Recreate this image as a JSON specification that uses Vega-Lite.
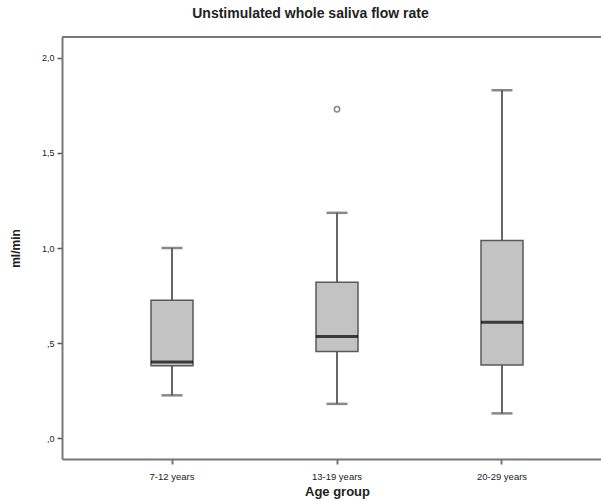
{
  "$schema": "https://vega.github.io/schema/vega-lite/v6.json",
  "width": 539,
  "height": 422,
  "autosize": {"type": "none"},
  "padding": {"left": 62, "top": 37, "right": 0, "bottom": 43},
  "background": "white",
  "title": {
    "text": "Unstimulated whole saliva flow rate",
    "font": "Liberation Sans",
    "fontSize": 14,
    "fontWeight": "bold",
    "color": "#222",
    "anchor": "middle",
    "dx": -21,
    "offset": 15
  },
  "config": {
    "view": {"stroke": null},
    "font": "Liberation Sans"
  },
  "data": {
    "values": [
      {"group": "7-12 years", "lower": 0.225, "q1": 0.38, "median": 0.4, "q3": 0.725, "upper": 1.0},
      {"group": "13-19 years", "lower": 0.18, "q1": 0.455, "median": 0.535, "q3": 0.82, "upper": 1.185},
      {"group": "20-29 years", "lower": 0.13, "q1": 0.385, "median": 0.61, "q3": 1.04, "upper": 1.83}
    ]
  },
  "encoding": {
    "x": {
      "field": "group",
      "type": "nominal",
      "sort": ["7-12 years", "13-19 years", "20-29 years"],
      "scale": {"type": "band", "range": [0, 550], "paddingInner": 0, "paddingOuter": 0.1667},
      "axis": {
        "title": "Age group",
        "titleFont": "Liberation Sans",
        "titleFontSize": 13,
        "titleFontWeight": "bold",
        "titleColor": "#222",
        "titlePadding": 5,
        "labelAngle": 0,
        "labelFontSize": 9.5,
        "labelColor": "#222",
        "labelPadding": 7,
        "tickSize": 5,
        "tickWidth": 2,
        "tickColor": "#777",
        "domainColor": "#777",
        "domainWidth": 2,
        "grid": false
      }
    }
  },
  "layer": [
    {
      "mark": {"type": "rule", "color": "#777", "strokeWidth": 2},
      "encoding": {"y": {"datum": 2.11}, "x": null}
    },
    {
      "mark": {"type": "rule", "color": "#666", "strokeWidth": 2},
      "encoding": {
        "y": {
          "field": "lower",
          "type": "quantitative",
          "scale": {"domain": [-0.11, 2.11], "nice": false, "zero": false},
          "axis": {
            "title": "ml/min",
            "titleFont": "Liberation Sans",
            "titleFontSize": 12,
            "titleFontWeight": "bold",
            "titleColor": "#222",
            "titlePadding": 19,
            "values": [0, 0.5, 1, 1.5, 2],
            "labelExpr": "datum.value < 1 ? ',' + substring(format(datum.value, '.1f'), 2) : replace(format(datum.value, '.1f'), '.', ',')",
            "labelFontSize": 9,
            "labelColor": "#222",
            "labelPadding": 3,
            "tickSize": 5,
            "tickWidth": 1.5,
            "tickColor": "#555",
            "domainColor": "#777",
            "domainWidth": 2,
            "grid": false
          }
        },
        "y2": {"field": "upper"}
      }
    },
    {
      "mark": {"type": "bar", "size": 42, "fill": "#c3c3c3", "stroke": "#5a5a5a", "strokeWidth": 1.5},
      "encoding": {
        "y": {"field": "q1", "type": "quantitative"},
        "y2": {"field": "q3"}
      }
    },
    {
      "mark": {"type": "tick", "size": 42, "thickness": 3, "color": "#000"},
      "encoding": {"y": {"field": "median", "type": "quantitative"}}
    },
    {
      "mark": {"type": "tick", "size": 21, "thickness": 2.5, "color": "#555"},
      "encoding": {"y": {"field": "lower", "type": "quantitative"}}
    },
    {
      "mark": {"type": "tick", "size": 21, "thickness": 2.5, "color": "#555"},
      "encoding": {"y": {"field": "upper", "type": "quantitative"}}
    },
    {
      "data": {"values": [{"group": "13-19 years", "value": 1.73}]},
      "mark": {"type": "point", "filled": false, "size": 28, "stroke": "#555", "strokeWidth": 1.5},
      "encoding": {"y": {"field": "value", "type": "quantitative"}}
    }
  ]
}
